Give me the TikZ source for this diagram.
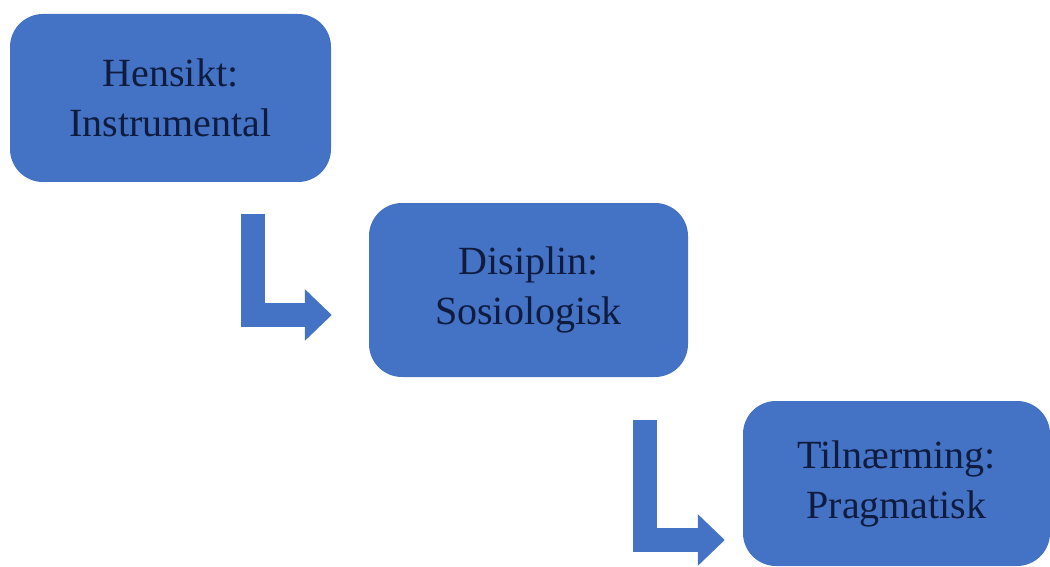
\documentclass[tikz,border=0pt]{standalone}
\usepackage{fontspec}
\setmainfont{Liberation Serif}
\usetikzlibrary{arrows.meta,calc}
\definecolor{boxblue}{HTML}{4472C4}
\definecolor{boxtext}{HTML}{0F1C3F}
\tikzset{
  stage/.style = {
    fill=boxblue, text=boxtext, rounded corners=33pt,
    align=center, inner sep=0pt,
    font=\fontsize{40}{50}\selectfont
  },
  bent/.style = {
    draw=boxblue, line width=24pt, line join=miter,
    -{Triangle[length=27pt,width=50pt]}
  }
}

\begin{document}
\begin{tikzpicture}[x=1pt,y=-1pt]
  \useasboundingbox (0,0) rectangle (1050,567);
  \clip (0,0) rectangle (1050,567);
  \node[stage, minimum width=321pt, minimum height=168pt] (hensikt) at (170.5,98) {Hensikt:\\Instrumental};
  \node[stage, minimum width=319pt, minimum height=174pt] (disiplin) at (528.5,290) {Disiplin:\\Sosiologisk};
  \node[stage, minimum width=307pt, minimum height=165pt] (tilnaerming) at (896.5,483.5) {Tilnærming:\\Pragmatisk};
  % bent block arrows
  \draw[bent] ($(hensikt.south)+(82,32)$) |- ($(disiplin.west)+(-37,25)$);
  \draw[bent] ($(disiplin.south)+(116,43)$) |- ($(tilnaerming.west)+(-18,56.5)$);
\end{tikzpicture}
\end{document}
